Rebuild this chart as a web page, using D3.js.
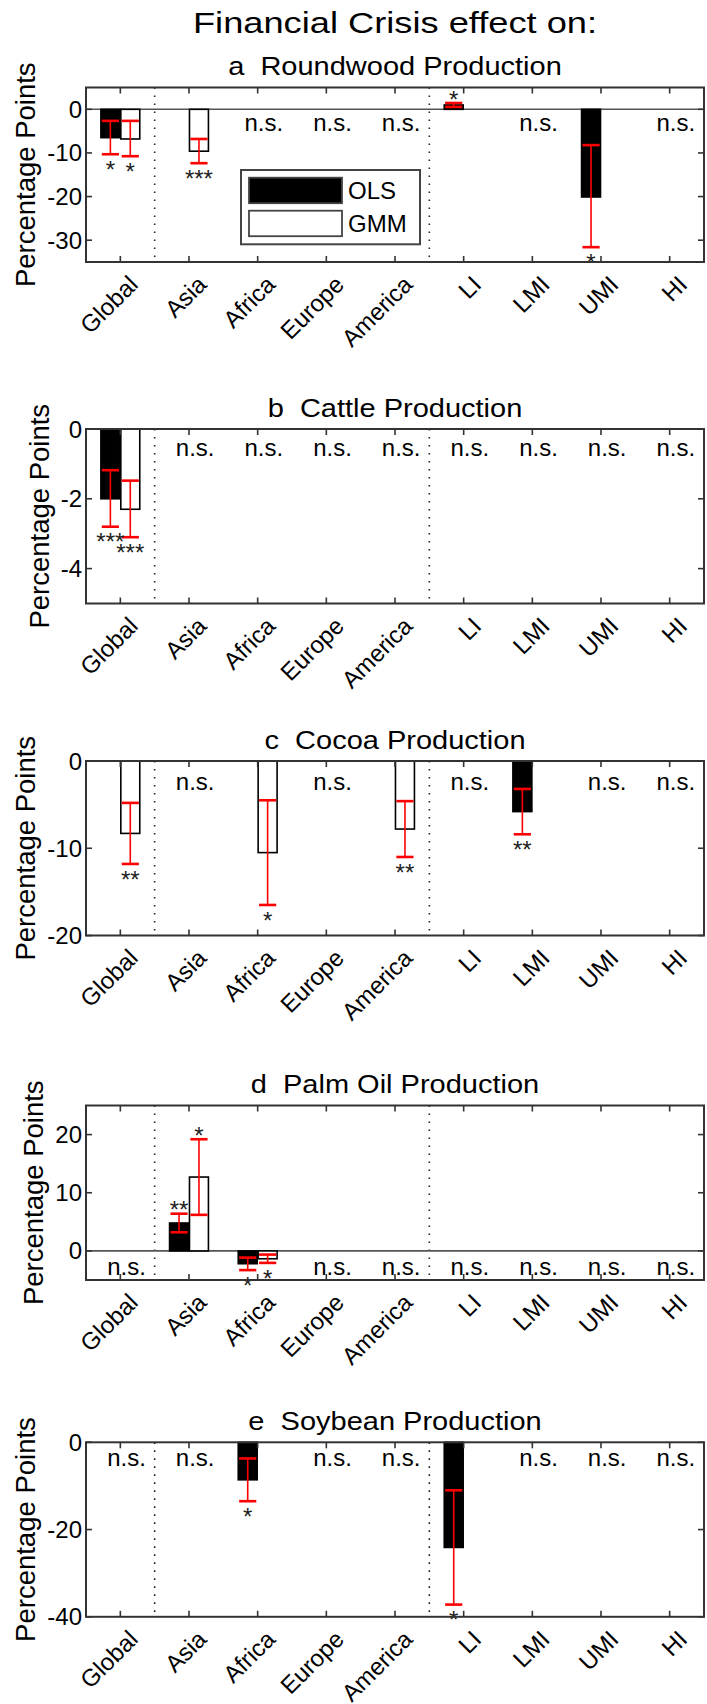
<!DOCTYPE html>
<html><head><meta charset="utf-8">
<script src="https://cdn.jsdelivr.net/npm/d3@7"></script>
<style>
body{margin:0;background:#fff}
svg{display:block}
text{font-family:"Liberation Sans",Arial,Helvetica,sans-serif;fill:#000}
</style>
</head><body>
<svg id="chart" width="707" height="1704"></svg>
<script>
// ---------------- DATA ----------------
const categories = ["Global","Asia","Africa","Europe","America","LI","LMI","UMI","HI"];
const mainTitle = "Financial Crisis effect on:";
const panelTitles = [
  "a\u00a0\u00a0Roundwood Production",
  "b\u00a0\u00a0Cattle Production",
  "c\u00a0\u00a0Cocoa Production",
  "d\u00a0\u00a0Palm Oil Production",
  "e\u00a0\u00a0Soybean Production"
];
const seriesNames = ["OLS","GMM"];
const yLabel = "Percentage Points";
const nsText = "n.s.";

// y axis domains and tick labels per panel
const yDomainA = [-35, 5],  yTicksA = [0, -10, -20, -30];
const yDomainB = [-5, 0],   yTicksB = [0, -2, -4];
const yDomainC = [-20, 0],  yTicksC = [0, -10, -20];
const yDomainD = [-5, 25],  yTicksD = [0, 10, 20];
const yDomainE = [-40, 0],  yTicksE = [0, -20, -40];

// estimates with 95% interval (low, high) and significance stars
const roundwoodOLS = [
  {cat:"Global", value:-6.5,  low:-10.3, high:-2.65, sig:"*"},
  {cat:"LI",     value:1.0,   low:0.55,  high:1.45,  sig:"*"},
  {cat:"UMI",    value:-20.1, low:-31.6, high:-8.2,  sig:"*"}
];
const roundwoodGMM = [
  {cat:"Global", value:-6.8,  low:-10.75, high:-2.65, sig:"*"},
  {cat:"Asia",   value:-9.6,  low:-12.35, high:-6.8,  sig:"***"}
];
const roundwoodNS = ["Africa","Europe","America","LMI","HI"];

const cattleOLS = [
  {cat:"Global", value:-2.0, low:-2.8, high:-1.18, sig:"***"}
];
const cattleGMM = [
  {cat:"Global", value:-2.3, low:-3.1, high:-1.48, sig:"***"}
];
const cattleNS = ["Asia","Africa","Europe","America","LI","LMI","UMI","HI"];

const cocoaOLS = [
  {cat:"LMI", value:-5.8, low:-8.4, high:-3.2, sig:"**"}
];
const cocoaGMM = [
  {cat:"Global",  value:-8.3,  low:-11.8, high:-4.8, sig:"**"},
  {cat:"Africa",  value:-10.5, low:-16.5, high:-4.5, sig:"*"},
  {cat:"America", value:-7.8,  low:-11.0, high:-4.6, sig:"**"}
];
const cocoaNS = ["Asia","Europe","LI","UMI","HI"];

const palmOLS = [
  {cat:"Asia",   value:4.8,  low:3.2,  high:6.4,   sig:"**"},
  {cat:"Africa", value:-2.2, low:-3.3, high:-1.15, sig:"*"}
];
const palmGMM = [
  {cat:"Asia",   value:12.7,  low:6.2,   high:19.2,  sig:"*"},
  {cat:"Africa", value:-1.35, low:-2.06, high:-0.63, sig:"*"}
];
const palmNS = ["Global","Europe","America","LI","LMI","UMI","HI"];

const soyOLS = [
  {cat:"Africa", value:-8.6,  low:-13.5, high:-3.7, sig:"*"},
  {cat:"LI",     value:-24.1, low:-37.2, high:-11.0, sig:"*"}
];
const soyGMM = [];
const soyNS = ["Global","Asia","Europe","America","LMI","UMI","HI"];

// y (data units) where the "n.s." annotations sit in each panel
const nsLabelY = [-3.05, -0.52, -2.36, -2.6, -3.4];

// ---------------- LAYOUT ----------------
const panels = [
  {title:panelTitles[0], domain:yDomainA, ticks:yTicksA, ols:roundwoodOLS, gmm:roundwoodGMM, ns:roundwoodNS, nsY:nsLabelY[0], legend:true},
  {title:panelTitles[1], domain:yDomainB, ticks:yTicksB, ols:cattleOLS,    gmm:cattleGMM,    ns:cattleNS,    nsY:nsLabelY[1]},
  {title:panelTitles[2], domain:yDomainC, ticks:yTicksC, ols:cocoaOLS,     gmm:cocoaGMM,     ns:cocoaNS,     nsY:nsLabelY[2]},
  {title:panelTitles[3], domain:yDomainD, ticks:yTicksD, ols:palmOLS,      gmm:palmGMM,      ns:palmNS,      nsY:nsLabelY[3]},
  {title:panelTitles[4], domain:yDomainE, ticks:yTicksE, ols:soyOLS,       gmm:soyGMM,       ns:soyNS,       nsY:nsLabelY[4]}
];
const panelTop = [87.5, 429, 761, 1105.5, 1442.3];
const boxH = 174.5;
const boxL = 86, boxR = 704;
const tickLen = 6;
const fsTick = 24;
const barOffset = 0.145, barWidth = 0.276, capWidth = 0.25;
const boxColor = "#333";

const svg = d3.select("#chart");
svg.append("rect").attr("width",707).attr("height",1704).attr("fill","#fff");

const x = d3.scaleLinear().domain([0.5, categories.length + 0.5]).range([boxL, boxR]);
const unit = x(2) - x(1);
const pos = c => categories.indexOf(c) + 1;

// main title
svg.append("text")
  .attr("transform", `translate(${(boxL+boxR)/2},33.3) scale(1.25,1)`)
  .attr("text-anchor","middle").style("font-size","29px")
  .text(mainTitle);

panels.forEach((p, pi) => {
  const top = panelTop[pi], bot = top + boxH;
  const y = d3.scaleLinear().domain(p.domain).range([bot, top]);
  const g = svg.append("g");

  // subtitle
  g.append("text")
    .attr("transform", `translate(${(boxL+boxR)/2},${top-12.5}) scale(1.16,1)`)
    .attr("text-anchor","middle").style("font-size","25px")
    .text(p.title);

  // dotted group dividers
  [1.5, 5.5].forEach(d => {
    g.append("line").attr("x1",x(d)).attr("x2",x(d)).attr("y1",top).attr("y2",bot)
      .attr("stroke","#222").attr("stroke-width",1.6).attr("stroke-dasharray","1.6,6.4");
  });

  // zero baseline
  if (p.domain[0] < 0 && p.domain[1] > 0) {
    g.append("line").attr("x1",boxL).attr("x2",boxR).attr("y1",y(0)).attr("y2",y(0))
      .attr("stroke","#555").attr("stroke-width",1.6);
  }

  const series = [
    {data:p.ols, off:-barOffset, fill:"#000"},
    {data:p.gmm, off: barOffset, fill:"#fff"}
  ];
  // bars
  series.forEach(s => {
    g.selectAll(null).data(s.data).enter().append("rect")
      .attr("x", d => x(pos(d.cat) + s.off) - barWidth*unit/2)
      .attr("width", barWidth*unit)
      .attr("y", d => y(Math.max(0, d.value)))
      .attr("height", d => Math.abs(y(d.value) - y(0)))
      .attr("fill", s.fill).attr("stroke","#000").attr("stroke-width",1.6);
  });
  // error bars
  series.forEach(s => {
    s.data.forEach(d => {
      const cx = x(pos(d.cat) + s.off);
      g.append("line").attr("x1",cx).attr("x2",cx).attr("y1",y(d.low)).attr("y2",y(d.high))
        .attr("stroke","#ff0000").attr("stroke-width",1.6);
      [d.low, d.high].forEach(v => {
        g.append("line").attr("x1",cx - capWidth*unit/2).attr("x2",cx + capWidth*unit/2)
          .attr("y1",y(v)).attr("y2",y(v))
          .attr("stroke","#ff0000").attr("stroke-width",2.6);
      });
    });
  });
  // significance stars
  series.forEach(s => {
    s.data.forEach(d => {
      const cx = x(pos(d.cat) + s.off);
      const cy = d.value < 0 ? y(d.low) + 10 : y(d.high) - 9;
      g.append("text").attr("x",cx).attr("y",cy + 0.57*fsTick)
        .attr("text-anchor","middle").style("font-size",fsTick+"px").style("fill","#222")
        .text(d.sig);
    });
  });
  // n.s. labels
  g.selectAll(null).data(p.ns).enter().append("text")
    .attr("x", c => x(pos(c) + 0.09)).attr("y", y(p.nsY))
    .attr("text-anchor","middle").attr("dominant-baseline","central")
    .style("font-size",fsTick+"px").text(nsText);

  // box
  g.append("rect").attr("x",boxL).attr("y",top).attr("width",boxR-boxL).attr("height",boxH)
    .attr("fill","none").attr("stroke",boxColor).attr("stroke-width",2);

  // y ticks & labels
  let maxW = 0;
  p.ticks.forEach(t => {
    g.append("line").attr("x1",boxL).attr("x2",boxL+tickLen).attr("y1",y(t)).attr("y2",y(t))
      .attr("stroke",boxColor).attr("stroke-width",1.6);
    g.append("line").attr("x1",boxR).attr("x2",boxR-tickLen).attr("y1",y(t)).attr("y2",y(t))
      .attr("stroke",boxColor).attr("stroke-width",1.6);
    const tt = g.append("text").attr("x",boxL-4).attr("y",y(t))
      .attr("text-anchor","end").attr("dominant-baseline","central")
      .style("font-size",fsTick+"px").text(t);
    maxW = Math.max(maxW, tt.node().getComputedTextLength());
  });
  // x ticks & rotated labels
  categories.forEach((c, i) => {
    const cx = x(i+1);
    g.append("line").attr("x1",cx).attr("x2",cx).attr("y1",bot).attr("y2",bot-tickLen)
      .attr("stroke",boxColor).attr("stroke-width",1.6);
    g.append("line").attr("x1",cx).attr("x2",cx).attr("y1",top).attr("y2",top+tickLen)
      .attr("stroke",boxColor).attr("stroke-width",1.6);
    g.append("text")
      .attr("transform",`translate(${cx+13},${bot+18}) rotate(-45)`)
      .attr("text-anchor","end").attr("dominant-baseline","central")
      .style("font-size",fsTick+"px").text(c);
  });
  // y label
  g.append("text")
    .attr("transform",`translate(${boxL-4-maxW-12},${(top+bot)/2}) rotate(-90)`)
    .attr("text-anchor","middle").style("font-size","27.5px")
    .text(yLabel);

  // legend
  if (p.legend) {
    const lg = g.append("g");
    const lx = 241, ly = top + 82.5, lw = 179, lh = 74.3;
    lg.append("rect").attr("x",lx).attr("y",ly).attr("width",lw).attr("height",lh)
      .attr("fill","#fff").attr("stroke","#444").attr("stroke-width",2);
    seriesNames.forEach((n, k) => {
      const py = ly + 7.7 + k*33;
      lg.append("rect").attr("x",lx+8).attr("y",py).attr("width",93).attr("height",25.5)
        .attr("fill", k === 0 ? "#000" : "#fff").attr("stroke","#444").attr("stroke-width",1.8);
      lg.append("text").attr("x",lx+107).attr("y",py+12.8).attr("dominant-baseline","central")
        .style("font-size","24px").text(n);
    });
  }
});
</script>
</body></html>
